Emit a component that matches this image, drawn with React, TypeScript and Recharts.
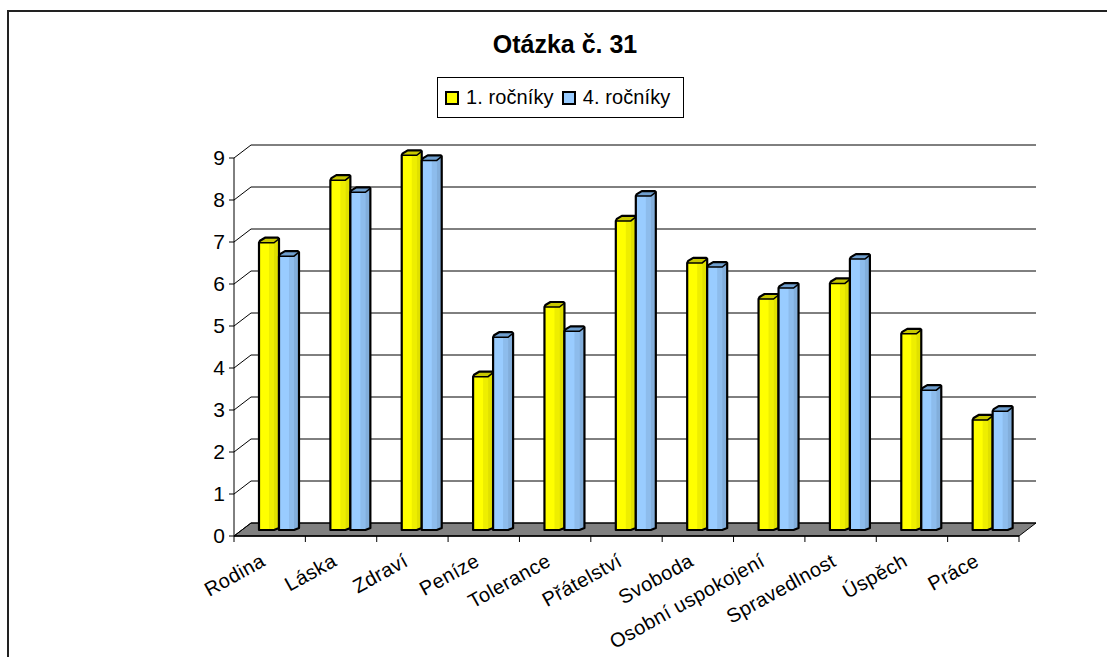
import React from 'react';
import { BarChart, Bar, XAxis, YAxis, CartesianGrid, Legend } from 'recharts';

const categories = [
  'Rodina', 'Láska', 'Zdraví', 'Peníze', 'Tolerance', 'Přátelství',
  'Svoboda', 'Osobní uspokojení', 'Spravedlnost', 'Úspěch', 'Práce'
];
const firstYear = [6.84, 8.33, 8.92, 3.65, 5.31, 7.36, 6.36, 5.5, 5.87, 4.67, 2.62];
const fourthYear = [6.52, 8.04, 8.8, 4.59, 4.73, 7.95, 6.26, 5.76, 6.45, 3.33, 2.83];
const yTicks = [0, 1, 2, 3, 4, 5, 6, 7, 8, 9];

const data = categories.map((name, i) => ({
  name,
  first: firstYear[i],
  fourth: fourthYear[i]
}));

const FONT = '"Liberation Sans", Arial, sans-serif';
const WIDTH = 1107;
const HEIGHT = 657;
const PLOT_LEFT = 234;
const PLOT_RIGHT = 1019;
const PLOT_TOP = 158;
const PLOT_BOTTOM = 536;
const BAND = (PLOT_RIGHT - PLOT_LEFT) / categories.length;
// depth of the fake 3D box, and how far the bars stand inside it
const DEPTH_X = 17;
const DEPTH_Y = 13;
const BAR_DX = 9;
const BAR_DY = 6;

const shades: Record<string, { front: string; side: string; edge: string; top: string }> = {
  '#ffff00': { front: '#ffff00', side: '#eeee00', edge: '#e0e000', top: '#c8c800' },
  '#99ccff': { front: '#99ccff', side: '#8dbcec', edge: '#82aedb', top: '#6f9fcf' }
};

function Bar3D(props: any) {
  const { x, y, width, height, fill } = props;
  const c = shades[fill];
  const left = x + BAR_DX;
  const right = left + width;
  const top = y - BAR_DY;
  const base = y + height - BAR_DY;
  const sl = 5; // slant of the right facet
  const mid = left + width * 0.5;
  const outline = `M${left},${top} L${left + 1},${top - 2} L${left + 6},${top - 5} L${right - 1},${top - 5} L${right},${top - 4} L${right},${base - 2} L${right - sl},${base} L${left},${base} Z`;
  return (
    <g>
      <path d={outline} fill={c.front} stroke="none" />
      <rect x={mid} y={top} width={right - sl - mid} height={base - top} fill={c.side} />
      <path d={`M${right - sl},${top} L${right},${top - 4} L${right},${base - 2} L${right - sl},${base} Z`} fill={c.edge} />
      <path d={`M${left},${top} L${left + 1},${top - 2} L${left + 6},${top - 5} L${right - 1},${top - 5} L${right},${top - 4} L${right - sl},${top} Z`} fill={c.top} />
      <path d={`M${left},${top} L${right - sl},${top} L${right},${top - 4}`} fill="none" stroke="#000" strokeWidth={1.5} />
      <path d={outline} fill="none" stroke="#000" strokeWidth={2.2} strokeLinejoin="round" />
    </g>
  );
}

// each horizontal grid line is the back wall line plus the diagonal on the left wall
function GridLine(props: any) {
  const { x1, y1, x2, y2 } = props;
  const isFloor = Math.abs(y1 - PLOT_BOTTOM) < 1;
  return (
    <g>
      {isFloor && (
        <polygon
          points={`${x1},${y1} ${x2},${y2} ${x2 + DEPTH_X},${y2 - DEPTH_Y} ${x1 + DEPTH_X},${y1 - DEPTH_Y}`}
          fill="#808080"
          stroke="#000"
        />
      )}
      <line x1={x1} y1={y1} x2={x1 + DEPTH_X} y2={y1 - DEPTH_Y} stroke="#000" />
      <line x1={x1 + DEPTH_X} y1={y1 - DEPTH_Y} x2={x2 + DEPTH_X} y2={y2 - DEPTH_Y} stroke="#000" />
    </g>
  );
}

function CategoryTick(props: any) {
  const { x, y, payload, index } = props;
  return (
    <g>
      {index === 0 && <line x1={x - BAND / 2} y1={PLOT_BOTTOM} x2={x - BAND / 2} y2={PLOT_BOTTOM + 6} stroke="#000" />}
      <line x1={x + BAND / 2} y1={PLOT_BOTTOM} x2={x + BAND / 2} y2={PLOT_BOTTOM + 6} stroke="#000" />
      <text
        x={x - 3}
        y={y + 21}
        textAnchor="end"
        fontFamily={FONT}
        fontSize={20}
        letterSpacing={0.4}
        fill="#000"
        transform={`rotate(-29 ${x - 3} ${y + 21})`}
      >
        {payload.value}
      </text>
    </g>
  );
}

function ChartLegend(props: any) {
  return (
    <div
      style={{
        width: 245,
        height: 39,
        border: '1px solid #000',
        background: '#fff',
        display: 'flex',
        alignItems: 'center',
        fontFamily: FONT,
        fontSize: 20,
        letterSpacing: 0.1,
        color: '#000'
      }}
    >
      {props.payload.map((item: any, i: number) => (
        <span key={item.value} style={{ display: 'flex', alignItems: 'center', marginLeft: i === 0 ? 7 : 8 }}>
          <span
            style={{
              width: 10,
              height: 10,
              border: '2px solid #000',
              background: item.color,
              marginRight: 7
            }}
          />
          {item.value}
        </span>
      ))}
    </div>
  );
}

export default function App() {
  return (
    <div style={{ position: 'absolute', left: 0, top: 0, width: WIDTH, height: HEIGHT, background: '#fff', overflow: 'hidden' }}>
      <div
        style={{
          position: 'absolute',
          left: 7,
          top: 10,
          width: 1200,
          height: 800,
          border: '2px solid #222',
          boxSizing: 'border-box'
        }}
      />
      <div
        style={{
          position: 'absolute',
          left: 365,
          width: 400,
          top: 30,
          textAlign: 'center',
          fontFamily: FONT,
          fontWeight: 700,
          fontSize: 25,
          color: '#000'
        }}
      >
        Otázka č. 31
      </div>
      <div style={{ position: 'absolute', left: 0, top: 0 }}>
        <BarChart
          width={WIDTH}
          height={HEIGHT}
          data={data}
          barSize={20}
          barGap={0}
          margin={{ top: PLOT_TOP, right: WIDTH - PLOT_RIGHT, bottom: HEIGHT - PLOT_BOTTOM - 70, left: PLOT_LEFT - 40 }}
        >
          <CartesianGrid vertical={false} horizontal={GridLine as any} />
          <XAxis
            dataKey="name"
            height={70}
            interval={0}
            tickLine={false}
            axisLine={{ stroke: '#000', strokeWidth: 1.5 }}
            tick={CategoryTick as any}
          />
          <YAxis
            width={40}
            domain={[0, 9]}
            ticks={yTicks}
            interval={0}
            tickSize={5}
            tickMargin={4}
            axisLine={{ stroke: '#000' }}
            tickLine={{ stroke: '#000' }}
            tick={{ fill: '#000', fontFamily: FONT, fontSize: 21 }}
          />
          <Legend
            layout="horizontal"
            align="center"
            verticalAlign="middle"
            wrapperStyle={{ left: 437, top: 77, width: 247, height: 41 }}
            content={ChartLegend as any}
          />
          <Bar dataKey="first" name="1. ročníky" fill="#ffff00" shape={Bar3D} isAnimationActive={false} />
          <Bar dataKey="fourth" name="4. ročníky" fill="#99ccff" shape={Bar3D} isAnimationActive={false} />
        </BarChart>
      </div>
    </div>
  );
}
